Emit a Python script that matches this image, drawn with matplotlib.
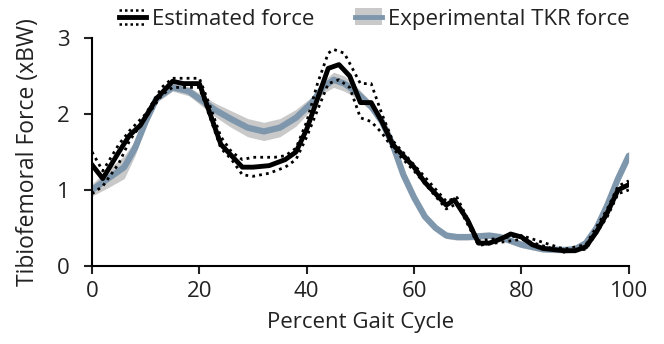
import matplotlib
matplotlib.use("Agg")
import matplotlib.pyplot as plt
import numpy as np
from matplotlib.legend_handler import HandlerBase
from matplotlib.lines import Line2D
from matplotlib.patches import Rectangle

plt.rcParams['font.family'] = ['Open Sans', 'DejaVu Sans']

# Estimated force (mean and +/- dotted bounds)
est_x = [0, 2, 5, 7, 9, 12, 15, 17, 20, 22, 24, 26, 28, 30, 33, 36, 38, 40, 42, 44, 46,
         48, 50, 52, 54, 56, 58, 60, 62, 64, 66, 67.5, 70, 72, 74, 76, 78, 80, 82, 84,
         88, 90, 92, 94, 96, 98, 100]
est_y = [1.33, 1.15, 1.5, 1.72, 1.85, 2.2, 2.43, 2.4, 2.4, 2.0, 1.6, 1.45, 1.3, 1.3, 1.32,
         1.4, 1.5, 1.8, 2.2, 2.6, 2.65, 2.5, 2.15, 2.15, 1.9, 1.6, 1.45, 1.3, 1.1, 0.95,
         0.8, 0.87, 0.6, 0.3, 0.3, 0.35, 0.42, 0.38, 0.28, 0.23, 0.2, 0.2, 0.25, 0.45,
         0.7, 1.0, 1.07]

up_x = [0, 2, 5, 7, 10, 13, 15, 20, 22, 24, 26, 28, 30, 34, 36, 38, 40, 42, 44, 45, 47,
        50, 52, 54, 56, 60, 66, 68, 72, 80, 88, 92, 96, 98, 100]
up_y = [1.5, 1.25, 1.6, 1.78, 2.0, 2.35, 2.47, 2.47, 2.1, 1.7, 1.5, 1.4, 1.43, 1.43, 1.45,
        1.55, 1.9, 2.4, 2.8, 2.85, 2.8, 2.4, 2.4, 2.0, 1.65, 1.33, 0.85, 0.9, 0.33, 0.4,
        0.22, 0.28, 0.75, 1.05, 1.12]

lo_x = [0, 2, 5, 7, 10, 13, 15, 20, 22, 24, 26, 28, 30, 33, 36, 38, 40, 42, 44, 46, 48,
        50, 52, 54, 56, 60, 66, 68, 72, 80, 88, 92, 96, 98, 100]
lo_y = [0.95, 1.05, 1.35, 1.65, 1.95, 2.25, 2.35, 2.35, 1.95, 1.55, 1.4, 1.2, 1.18, 1.22,
        1.3, 1.4, 1.7, 2.05, 2.4, 2.45, 2.35, 1.95, 1.9, 1.75, 1.55, 1.25, 0.75, 0.82,
        0.27, 0.35, 0.18, 0.22, 0.65, 0.95, 1.0]

# Experimental TKR force (mean and band half-width)
exp_x = [0, 3, 6, 8, 10, 12, 15, 18, 20, 23, 26, 29, 32, 35, 38, 41, 43, 45, 47, 49, 52,
         54, 56, 58, 60, 62, 64, 66, 68, 70, 72, 74, 76, 78, 80, 84, 88, 90, 92, 94, 96,
         98, 100]
exp_y = [1.0, 1.15, 1.3, 1.55, 1.9, 2.2, 2.35, 2.3, 2.2, 2.05, 1.93, 1.82, 1.77, 1.82,
         1.95, 2.15, 2.35, 2.45, 2.4, 2.3, 2.1, 1.9, 1.6, 1.2, 0.9, 0.65, 0.5, 0.4, 0.38,
         0.38, 0.39, 0.4, 0.38, 0.33, 0.28, 0.22, 0.21, 0.22, 0.3, 0.5, 0.8, 1.15, 1.45]
exp_sd = [0.08, 0.12, 0.15, 0.1, 0.06, 0.05, 0.05, 0.06, 0.07, 0.09, 0.11, 0.12, 0.12,
          0.12, 0.11, 0.08, 0.08, 0.1, 0.1, 0.08, 0.06, 0.05, 0.04, 0.04, 0.04, 0.04,
          0.04, 0.04, 0.04, 0.04, 0.04, 0.04, 0.04, 0.04, 0.04, 0.04, 0.04, 0.04, 0.04,
          0.04, 0.05, 0.06, 0.06]

blue = '#7f97ad'
band = '#c9c9c9'
txt = '#222222'

fig = plt.figure(figsize=(6.64, 3.44), dpi=100)
ax = fig.add_axes([0.1386, 0.227, 0.8084, 0.6625])

ey = np.array(exp_y); es = np.array(exp_sd)
ax.fill_between(exp_x, ey - es, ey + es, color=band, lw=0, zorder=1)
ax.plot(exp_x, exp_y, color=blue, lw=4.5, solid_capstyle='round', zorder=2)
ax.plot(up_x, up_y, color='black', lw=2, ls=(0, (1, 1.5)), zorder=3)
ax.plot(lo_x, lo_y, color='black', lw=2, ls=(0, (1, 1.5)), zorder=3)
ax.plot(est_x, est_y, color='black', lw=3.5, zorder=4)

ax.set_xlim(0, 100)
ax.set_ylim(0, 3)
ax.set_xticks([0, 20, 40, 60, 80, 100])
ax.set_yticks([0, 1, 2, 3])
for s in ['top', 'right']:
    ax.spines[s].set_visible(False)
for s in ['left', 'bottom']:
    ax.spines[s].set_linewidth(1.5)
ax.tick_params(direction='out', length=6, width=1.5, labelsize=16, colors=txt,
               labelcolor=txt)
ax.tick_params(axis='x', pad=5)
ax.tick_params(axis='y', pad=10)
ax.set_xlabel('Percent Gait Cycle', fontsize=16, color=txt, labelpad=7)
ax.set_ylabel('Tibiofemoral Force (xBW)', fontsize=16.5, color=txt, labelpad=12)


class EstHandler(HandlerBase):
    def create_artists(self, legend, orig_handle, xdescent, ydescent, width, height,
                       fontsize, trans):
        y = height / 2 - ydescent
        arts = []
        for dy, lw, ls in [(-height * 0.4, 1.8, (0, (1, 1.2))), (0, 3.5, '-'),
                           (height * 0.4, 1.8, (0, (1, 1.2)))]:
            l = Line2D([-xdescent, -xdescent + width], [y + dy, y + dy], color='black',
                       lw=lw, ls=ls, transform=trans)
            arts.append(l)
        return arts


class ExpHandler(HandlerBase):
    def create_artists(self, legend, orig_handle, xdescent, ydescent, width, height,
                       fontsize, trans):
        r = Rectangle((-xdescent, -ydescent), width, height, facecolor=band, lw=0,
                      transform=trans)
        l = Line2D([-xdescent, -xdescent + width], [height / 2 - ydescent] * 2, color=blue,
                   lw=3.5, transform=trans)
        return [r, l]


h1 = object()
h2 = object()
fig.legend([h1, h2], ['Estimated force', 'Experimental TKR force'],
           handler_map={h1: EstHandler(), h2: ExpHandler()},
           loc='center', bbox_to_anchor=(0.564, 0.945), ncol=2, frameon=False,
           fontsize=16, handlelength=1.2, handleheight=0.8, columnspacing=1.8,
           handletextpad=0.3, labelcolor=txt)

fig.savefig('out.png', dpi=100)
